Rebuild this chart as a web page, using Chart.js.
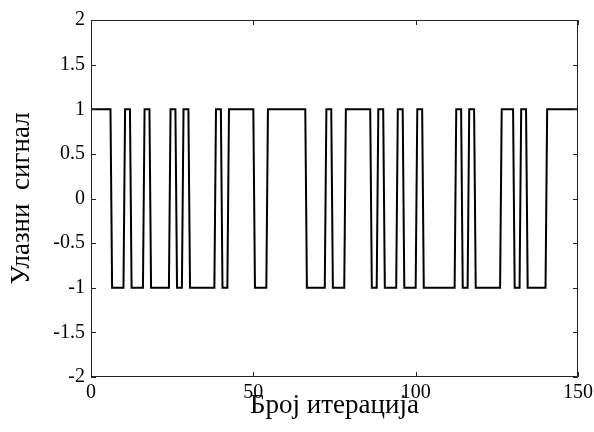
<!DOCTYPE html>
<html lang="sr">
<head>
    <meta charset="UTF-8">
    <title>Улазни сигнал</title>
    <script src="https://cdn.jsdelivr.net/npm/chart.js@4.4.1/dist/chart.umd.min.js"></script>
    <style>
        body { margin: 0; background: #fff; }
        #signalChart { display: block; }
    </style>
</head>
<body>
    <canvas id="signalChart" width="594" height="432"></canvas>

    <script>
        // улазни сигнал: почиње на 1 и мења знак после сваке наведене итерације
        const startLevel = 1;
        const switchIters = [6, 10, 12, 16, 18, 24, 26, 28, 30, 38, 40, 42, 50, 54, 66, 72, 74, 78,
                             86, 88, 90, 94, 96, 100, 102, 112, 114, 116, 118, 126, 130, 132, 134, 140];
        const iterations = 150;

        // подеоци на осама
        const xTicks = [0, 50, 100, 150];
        const yTicks = [-2, -1.5, -1, -0.5, 0, 0.5, 1, 1.5, 2];

        // трајање прелаза између нивоа (у итерацијама)
        const ramp = 0.5;

        // тачке сигнала: почетак, прелази и крај
        const signal = [{ x: 0, y: startLevel }];
        let level = startLevel;
        switchIters.forEach(k => {
            signal.push({ x: k, y: level });
            level = -level;
            signal.push({ x: k + ramp, y: level });
        });
        signal.push({ x: iterations, y: level });

        const serif = "'Liberation Serif', 'Times New Roman', serif";

        // оквир око графика и подеоци окренути ка унутра, на све четири стране
        const framePlugin = {
            id: 'frame',
            afterDraw(chart) {
                const { ctx, chartArea: a, scales } = chart;
                const tl = 5;
                ctx.save();
                ctx.strokeStyle = '#222';
                ctx.lineWidth = 1;
                ctx.beginPath();
                ctx.rect(a.left + 0.5, a.top + 0.5, a.right - a.left - 1, a.bottom - a.top - 1);
                xTicks.forEach(v => {
                    const px = Math.round(scales.x.getPixelForValue(v)) + 0.5;
                    ctx.moveTo(px, a.bottom); ctx.lineTo(px, a.bottom - tl);
                    ctx.moveTo(px, a.top); ctx.lineTo(px, a.top + tl);
                });
                yTicks.forEach(v => {
                    const py = Math.round(scales.y.getPixelForValue(v)) + 0.5;
                    ctx.moveTo(a.left, py); ctx.lineTo(a.left + tl, py);
                    ctx.moveTo(a.right, py); ctx.lineTo(a.right - tl, py);
                });
                ctx.stroke();
                ctx.restore();
            }
        };

        const ctx = document.getElementById('signalChart').getContext('2d');
        new Chart(ctx, {
            type: 'line',
            data: {
                datasets: [{
                    data: signal,
                    borderColor: '#000',
                    borderWidth: 2,
                    pointRadius: 0,
                    tension: 0,
                    fill: false
                }]
            },
            options: {
                responsive: false,
                animation: false,
                layout: { padding: { left: 0, top: 20, right: 16, bottom: 0 } },
                plugins: { legend: { display: false }, tooltip: { enabled: false } },
                scales: {
                    x: {
                        type: 'linear',
                        min: 0,
                        max: iterations,
                        afterBuildTicks: s => { s.ticks = xTicks.map(v => ({ value: v })); },
                        afterFit: s => { s.height = 55; s.paddingLeft = 0; s.paddingRight = 0; },
                        grid: { display: false, drawTicks: false },
                        border: { display: false },
                        ticks: {
                            color: '#000',
                            padding: 4,
                            maxRotation: 0,
                            font: { family: serif, size: 20 },
                            callback: v => String(v)
                        },
                        title: {
                            display: true,
                            text: 'Број итерација',
                            color: '#000',
                            padding: { top: 0, bottom: 10 },
                            font: { family: serif, size: 27 }
                        }
                    },
                    y: {
                        min: -2,
                        max: 2,
                        afterBuildTicks: s => { s.ticks = yTicks.map(v => ({ value: v })); },
                        afterFit: s => { s.width = 91; s.paddingTop = 0; s.paddingBottom = 0; },
                        grid: { display: false, drawTicks: false },
                        border: { display: false },
                        ticks: {
                            color: '#000',
                            padding: 6,
                            font: { family: serif, size: 20 },
                            callback: v => String(v)
                        },
                        title: {
                            display: true,
                            text: 'Улазни  сигнал',
                            color: '#000',
                            padding: { top: 6, bottom: 0 },
                            font: { family: serif, size: 27 }
                        }
                    }
                }
            },
            plugins: [framePlugin]
        });
    </script>
</body>
</html>
